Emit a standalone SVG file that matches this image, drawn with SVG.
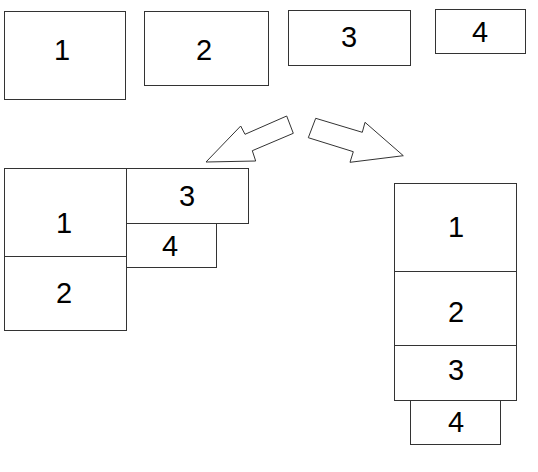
<svg xmlns="http://www.w3.org/2000/svg" width="538" height="472" viewBox="0 0 538 472">
<style>
rect{fill:#fff;stroke:#333;stroke-width:1}
text{font-family:"Liberation Sans",Arial,sans-serif;font-size:29px;fill:#000;text-anchor:middle}
.arrow{fill:#fff;stroke:#333;stroke-width:1;stroke-linejoin:miter}
</style>
<rect x="0" y="0" width="538" height="472" style="stroke:none"/>
<g id="top1"><rect x="4.5" y="11.5" width="121" height="88"/><text x="62" y="60">1</text></g>
<g id="top2"><rect x="144.5" y="11.5" width="124" height="74"/><text x="204" y="60">2</text></g>
<g id="top3"><rect x="288.5" y="10.5" width="122" height="55"/><text x="349" y="47">3</text></g>
<g id="top4"><rect x="435.5" y="9.5" width="90" height="44"/><text x="480" y="42">4</text></g>

<g id="left1"><rect x="4.5" y="168.5" width="122" height="88"/><text x="64" y="233">1</text></g>
<g id="left2"><rect x="4.5" y="256.5" width="122" height="74"/><text x="64" y="303">2</text></g>
<g id="left3"><rect x="126.5" y="168.5" width="122" height="55"/><text x="187" y="206">3</text></g>
<g id="left4"><rect x="126.5" y="223.5" width="90" height="44"/><text x="170" y="256">4</text></g>

<g id="right1"><rect x="394.5" y="183.5" width="122" height="88"/><text x="456" y="237">1</text></g>
<g id="right2"><rect x="394.5" y="271.5" width="122" height="74"/><text x="456" y="322">2</text></g>
<g id="right3"><rect x="394.5" y="345.5" width="122" height="55"/><text x="456" y="380">3</text></g>
<g id="right4"><rect x="410.5" y="400.5" width="90" height="44"/><text x="456" y="432">4</text></g>

<g id="connectors">
<polygon class="arrow" points="206,162 240.7,126 245,134.3 286.7,116 293.3,133.3 252.3,150.7 255.7,161"/>
<polygon class="arrow" points="315.7,118.3 362.3,132.3 365,122.3 403.3,155.7 350,162.3 353.3,151.7 308.3,137.7"/>
</g>
</svg>
